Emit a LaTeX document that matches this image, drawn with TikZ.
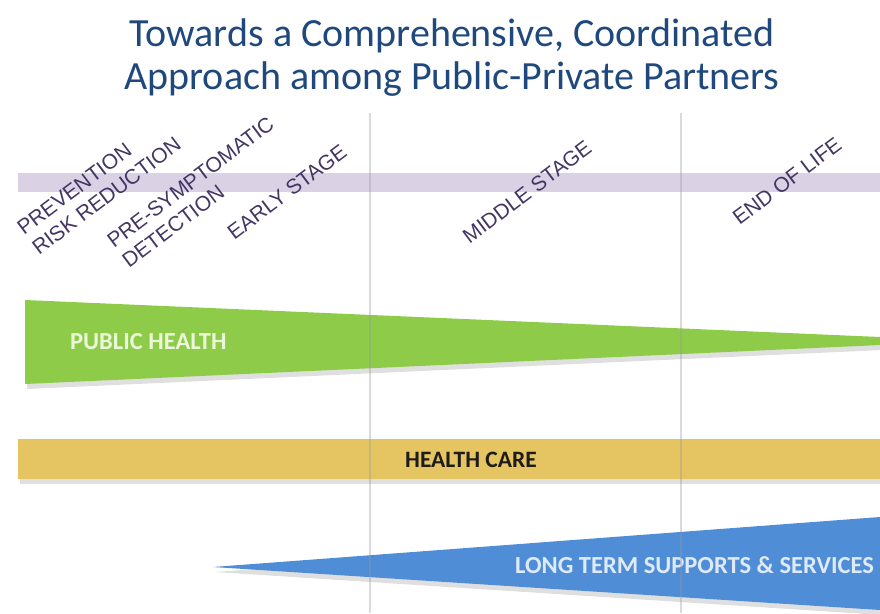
\documentclass[tikz,border=0pt]{standalone}
\usepackage{fontspec}
\usepackage{xcolor}
\usetikzlibrary{shadows}
\newfontfamily\titlefont{Carlito}
\newfontfamily\stagefont{Liberation Sans}
\definecolor{titleblue}{RGB}{31,73,125}
\definecolor{stagepurple}{RGB}{68,54,100}
\definecolor{bandlilac}{RGB}{218,209,228}
\definecolor{phgreen}{RGB}{141,203,72}
\definecolor{phtext}{RGB}{236,246,218}
\definecolor{hcgold}{RGB}{229,196,98}
\definecolor{hctext}{RGB}{30,28,24}
\definecolor{ltblue}{RGB}{79,142,214}
\definecolor{lttext}{RGB}{222,234,248}
\definecolor{gridgray}{RGB}{150,150,160}
\tikzset{
  stage/.style={rotate=37, inner sep=0pt, text=stagepurple, align=left,
    font=\stagefont\fontsize{21}{25}\selectfont},
  barlabel/.style={anchor=base west, inner sep=0pt,
    font=\titlefont\bfseries\fontsize{24.5}{28}\selectfont},
  softshadow/.style={drop shadow={shadow xshift=2pt, shadow yshift=-5pt, opacity=0.25}}
}

\begin{document}
\begin{tikzpicture}[x=1pt, y=-1pt]
		\useasboundingbox (0,0) rectangle (880,613);
		
		\node [align=center, text=titleblue, font=\titlefont\fontsize{40}{43}\selectfont] (title) at (452, 58) {Towards a Comprehensive, Coordinated\\Approach among Public-Private Partners};
		
		\fill [bandlilac] (18, 173) rectangle (880, 192);
		
		\node [stage] (prev) at (99, 186) {PREVENTION\\RISK REDUCTION};
		\node [stage] (presym) at (198, 192) {PRE-SYMPTOMATIC\\DETECTION};
		\node [stage] (early) at (287, 192) {EARLY STAGE};
		\node [stage] (middle) at (527, 192) {MIDDLE STAGE};
		\node [stage] (eol) at (787, 181) {END OF LIFE};
		
		\fill [phgreen, softshadow] (25, 300) -- (880, 337) -- (880, 345) -- (25, 384) -- cycle;
		\node [barlabel, text=phtext] (pubhealth) at (70, 349) {PUBLIC HEALTH};
		
		\fill [hcgold, softshadow] (18, 439) rectangle (880, 479);
		\node [barlabel, text=hctext, font=\titlefont\bfseries\fontsize{23.5}{28}\selectfont] (healthcare) at (405, 467) {HEALTH CARE};
		
		\fill [ltblue, softshadow] (213, 567) -- (880, 517) -- (880, 610) -- cycle;
		\node [barlabel, text=lttext] (ltss) at (515, 573) {LONG TERM SUPPORTS \& SERVICES};
		
		\draw [gridgray, opacity=0.35, line width=2pt] (370, 113) -- (370, 613);
		\draw [gridgray, opacity=0.35, line width=2pt] (681, 113) -- (681, 613);
\end{tikzpicture}
\end{document}
